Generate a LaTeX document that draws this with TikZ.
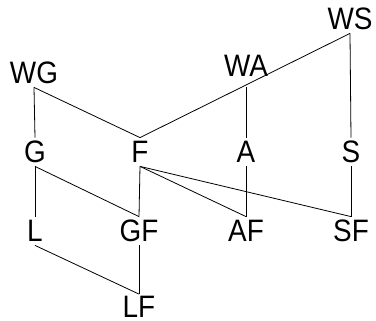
\documentclass[tikz,border=0pt]{standalone}
\usepackage{fontspec}
\setmainfont[FakeStretch=0.9]{Liberation Sans}

\begin{document}
\begin{tikzpicture}[x=1pt, y=-1pt, line width=0.8pt,
	lbl/.style={inner xsep=2pt, inner ysep=3pt, text height=22pt, text depth=0pt, font=\fontsize{31}{34}\selectfont}]

	\useasboundingbox (0,0) rectangle (376,321);

	\node [lbl] (WS) at (350, 19) {WS};

	\node [lbl] (WG) at (34, 73) {WG};
	\node [lbl, inner ysep=10pt] (WA) at (246, 66) {WA};

	\node [lbl] (G) at (35, 152) {G};
	\node [lbl] (F) at (140, 152) {F};
	\node [lbl] (A) at (246, 152) {A};
	\node [lbl] (S) at (351, 152) {S};

	\node [lbl] (L) at (35, 231) {L};
	\node [lbl] (GF) at (139, 231) {GF};
	\node [lbl] (AF) at (246, 231) {AF};
	\node [lbl] (SF) at (351, 231) {SF};

	\node [lbl, inner ysep=1.5pt] (LF) at (139, 307) {LF};

	\draw (WS.south) -- (F.north);
	\draw (WS.south) -- (S.north);
	\draw (WG.south) -- (G.north);
	\draw (WG.south) -- (F.north);
	\draw (WA.south) -- (A.north);

	\draw (G.south) -- (L.north);
	\draw (G.south) -- (GF.north);
	\draw (F.south) -- (GF.north);
	\draw (F.south) -- (AF.north);
	\draw (F.south) -- (SF.north);
	\draw (A.south) -- (AF.north);
	\draw (S.south) -- (SF.north);

	\draw (L.south) -- (LF.north);
	\draw (GF.south) -- (LF.north);
\end{tikzpicture}
\end{document}
